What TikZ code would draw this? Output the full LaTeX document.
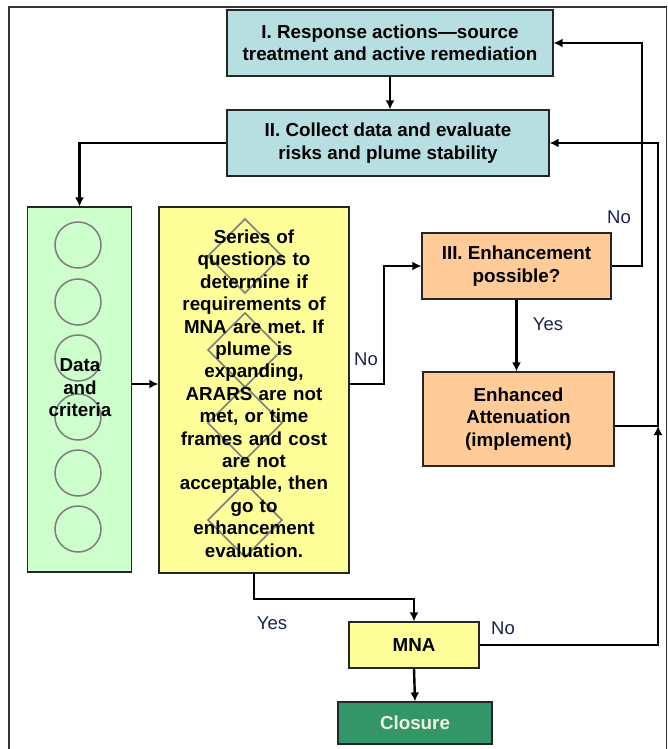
\documentclass[tikz,border=0pt]{standalone}
\usepackage{fontspec}
\setmainfont{Liberation Sans}
\usetikzlibrary{arrows.meta,calc}
\frenchspacing
\definecolor{teal1}{RGB}{183,222,224}
\definecolor{green1}{RGB}{204,255,204}
\definecolor{yellow1}{RGB}{255,255,153}
\definecolor{orange1}{RGB}{255,204,153}
\definecolor{closegreen}{RGB}{51,150,105}
\definecolor{closetext}{RGB}{240,242,222}
\definecolor{navy1}{RGB}{25,35,80}
\definecolor{deco}{RGB}{125,125,125}
\tikzset{
  box/.style={draw=black!85, line width=1.2pt, inner sep=0pt, align=center,
    font=\fontsize{18.8}{22.4}\selectfont\bfseries},
  conn/.style={line width=2.4pt, -{Latex[length=9pt,width=9pt]}},
  lab/.style={font=\fontsize{18.5}{22}\selectfont, text=navy1, inner sep=0pt},
  decoline/.style={draw=deco, line width=1.5pt},
  frameline/.style={draw=black!80, line width=1.3pt}
}
\begin{document}
\begin{tikzpicture}[x=1pt,y=-1pt]
\useasboundingbox (0,0) rectangle (668,749);
\draw[frameline] (9,760) -- (9,7) -- (666.5,7) -- (666.5,760);

% boxes
\node[box, fill=teal1, minimum width=326pt, minimum height=66pt] (I) at (390,43)
  {I. Response actions---source\\treatment and active remediation};
\node[box, fill=teal1, minimum width=322pt, minimum height=66pt] (II) at (388,143)
  {II. Collect data and evaluate\\risks and plume stability};
\node[box, fill=green1, minimum width=104pt, minimum height=365pt] (G) at (79.5,389.5) {};
\foreach \cy in {245,302,358,417,473,529}
  \draw[decoline] (78,\cy) circle (23);
\node[box, fill=none, draw=none] (Gt) at (80,388) {Data\\and\\criteria};

\node[box, fill=yellow1, minimum width=190pt, minimum height=366pt] (Y) at (254,390) {};
\foreach \cy in {256,350,423,520}
  \draw[decoline] (245,\cy-37) -- (282,\cy) -- (245,\cy+37) -- (208,\cy) -- cycle;
\node[box, draw=none, fill=none, text width=190pt] (Yt) at (254,393.5)
  {Series of\\questions to\\determine if\\requirements of\\MNA are met. If\\plume is\\expanding,\\ARARS are not\\met, or time\\frames and cost\\are not\\acceptable, then\\go to\\enhancement\\evaluation.};

\node[box, fill=orange1, minimum width=189pt, minimum height=66pt] (III) at (516.5,266)
  {III. Enhancement\\possible?};
\node[box, fill=orange1, minimum width=191pt, minimum height=94pt] (EA) at (518.5,419)
  {Enhanced\\Attenuation\\(implement)};
\node[box, fill=yellow1, minimum width=130pt, minimum height=46pt] (MNA) at (414,645) {MNA};
\node[box, fill=closegreen, text=closetext, minimum width=154pt, minimum height=42pt] (CL) at (415,723) {Closure};

% helper coordinates
\coordinate (row) at (0,384);
\coordinate (xr1) at (642,0);
\coordinate (join) at (658,426);
\coordinate (ylow) at (0,599);
\coordinate (xno) at (384,0);

% connectors
\draw[conn] (I.south) -- (I.south |- II.north);
\draw[conn] (II.west) -| (G.north);
\draw[conn] (G.east |- row) -- (Y.west |- row);
\draw[conn] (Y.east |- row) -| (xno |- III.west) -- (III.west);
\draw[conn] (III.east) -| (xr1 |- I.east) -- (I.east);
\draw[conn] (III.south) -- (III.south |- EA.north);
\draw[conn] (EA.east |- join) -- (join) |- (II.east);
\draw[conn] (MNA.east) -| (join);
\draw[conn] (Y.south) |- (MNA.north |- ylow) -- (MNA.north);
\draw[conn] (MNA.south) -- (CL.north);

% labels
\node[lab] (l1) at (366,359) {No};
\node[lab] (l2) at (619,217) {No};
\node[lab] (l3) at (548,324) {Yes};
\node[lab] (l4) at (272,623) {Yes};
\node[lab] (l5) at (503,628) {No};
\end{tikzpicture}
\end{document}
